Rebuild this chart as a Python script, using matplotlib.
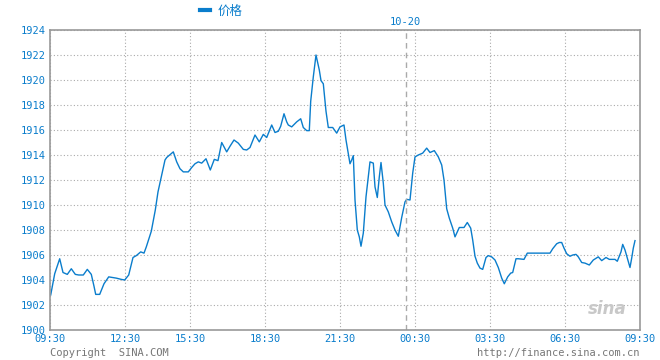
import matplotlib
matplotlib.use("Agg")
import matplotlib.pyplot as plt

# horizontal slot of each sample (0 = 09:30 open, 590 = next 09:30) and price
slot = [0.7, 4.7, 9.7, 13, 17.3, 21.3, 25.3, 28.7, 33.3, 37.3, 41.3, 44, 45.7, 49.7,
        54, 58.7, 66.3, 71.3, 74.7, 78.7, 83, 86.3, 90.7, 94, 96.3, 101.3, 105.3, 108,
        111.7, 115, 116.7, 123.3, 126.7, 130, 133.3, 138.3, 141.7, 145, 148.3, 151.7,
        156, 160.3, 164.3, 168, 171.7, 176.7, 180, 184, 188.3, 193.3, 196.7, 200,
        205, 209.3, 213.3, 216.7, 221.7, 225, 228.3, 230.7, 234, 236.7, 238.3, 241.7,
        246.7, 250.7, 253.3, 256.7, 259.3, 260.7, 263.3, 266, 269.3, 271, 273.3, 276,
        278.3, 282.7, 286.7, 290, 294, 296, 298.3, 300, 301.7, 303.3, 305, 307.3,
        309.3, 311, 313.3, 316, 318.3, 320, 323.3, 325, 327.3, 329.3, 331, 333.3, 335,
        338.3, 341.7, 345, 348.3, 351.7, 355, 356.7, 360, 362.7, 365, 368.3, 372.7,
        376.7, 380, 384.3, 388.3, 391.7, 394, 396.7, 399.3, 402.7, 405, 407.3, 409.3,
        414, 417.3, 420.7, 422.7, 425, 427.3, 430, 432.7, 436, 438.3, 441.7, 445,
        448.3, 451.7, 454.3, 457.7, 460.7, 462.7, 466, 468.3, 474, 477.3, 500, 502.7,
        506.7, 509.3, 511.7, 514, 516.7, 520, 522.7, 526, 528.3, 531.7, 535, 539.3,
        543.3, 548.3, 551.7, 556, 559.3, 565, 567.3, 571, 572.7, 575, 577.3, 580,
        581.7, 583.3, 585]
price = [1902.8, 1904.5, 1905.7, 1904.6, 1904.45, 1904.9, 1904.45, 1904.4, 1904.4,
         1904.85, 1904.45, 1903.5, 1902.85, 1902.85, 1903.7, 1904.25, 1904.15, 1904.05,
         1904.0, 1904.4, 1905.8, 1905.95, 1906.25, 1906.15, 1906.65, 1907.9, 1909.6,
         1911.05, 1912.4, 1913.6, 1913.8, 1914.25, 1913.45, 1912.9, 1912.65, 1912.65,
         1913.0, 1913.3, 1913.45, 1913.35, 1913.7, 1912.8, 1913.65, 1913.55, 1915.0,
         1914.25, 1914.7, 1915.2, 1914.95, 1914.45, 1914.4, 1914.6, 1915.6, 1915.05,
         1915.65, 1915.4, 1916.4, 1915.8, 1915.9, 1916.3, 1917.3, 1916.65, 1916.4,
         1916.25, 1916.65, 1916.9, 1916.2, 1915.95, 1915.95, 1918.3, 1920.25, 1922.0,
         1920.8, 1919.95, 1919.7, 1917.5, 1916.2, 1916.2, 1915.75, 1916.25, 1916.4,
         1915.2, 1914.1, 1913.3, 1913.6, 1913.95, 1910.4, 1908.0, 1907.45, 1906.7,
         1907.75, 1910.65, 1912.25, 1913.45, 1913.35, 1911.45, 1910.6, 1912.25, 1913.4,
         1911.75, 1910.0, 1909.45, 1908.65, 1908.0, 1907.5, 1909.0, 1910.25, 1910.45,
         1910.4, 1912.55, 1913.85, 1914.0, 1914.15, 1914.55, 1914.2, 1914.35, 1913.85,
         1913.2, 1912.0, 1909.7, 1908.95, 1908.15, 1907.45, 1907.85, 1908.2, 1908.2,
         1908.6, 1908.15, 1907.2, 1905.9, 1905.35, 1904.95, 1904.85, 1905.8, 1905.95,
         1905.85, 1905.6, 1905.0, 1904.15, 1903.7, 1904.25, 1904.55, 1904.6, 1905.7,
         1905.7, 1905.65, 1906.15, 1906.15, 1906.5, 1906.9, 1907.0, 1907.0, 1906.55,
         1906.1, 1905.9, 1906.0, 1906.05, 1905.85, 1905.4, 1905.35, 1905.2, 1905.6,
         1905.85, 1905.55, 1905.8, 1905.65, 1905.65, 1905.5, 1906.25, 1906.85, 1906.4,
         1905.75, 1905.0, 1905.75, 1906.55, 1907.15]

tick_slots = [0, 75, 140, 215, 290, 365, 440, 515, 590]
tick_labels = ["09:30", "12:30", "15:30", "18:30", "21:30", "00:30", "03:30", "06:30", "09:30"]
y_ticks = list(range(1900, 1925, 2))
day_slot = 355.5
day_label = "10-20"

blue = "#0a7dcc"
grey = "#999999"

fig = plt.figure(figsize=(6.6, 3.6), dpi=100)
ax = fig.add_axes([50 / 660, 30 / 360, 590 / 660, 300 / 360])

ax.plot(slot, price, color=blue, linewidth=1.0, label="价格")

ax.set_xlim(0, 590)
ax.set_ylim(1900, 1924)
ax.set_xticks(tick_slots)
ax.set_xticklabels(tick_labels)
ax.set_yticks(y_ticks)
ax.tick_params(length=0, colors=blue, labelsize=7.5, pad=3)
for lab in ax.get_xticklabels() + ax.get_yticklabels():
    lab.set_family("DejaVu Sans Mono")

ax.grid(True, color="#aaaaaa", linestyle=(0, (1, 2)), linewidth=0.8)
for s in ax.spines.values():
    s.set_color(grey)
    s.set_linewidth(1.2)

# date separator
ax.axvline(day_slot, color="#aaaaaa", linestyle=(0, (4, 3)), linewidth=1)
ax.text(day_slot, 1924.64, day_label, color=blue, ha="center", va="center",
        fontsize=7.5, family="DejaVu Sans Mono")

leg = ax.legend(loc="center left", bbox_to_anchor=(150 / 590, 1 + 19 / 300), frameon=False,
                handlelength=0.8, handletextpad=0.6, borderaxespad=0, borderpad=0,
                prop={"family": ["Noto Sans CJK SC", "DejaVu Sans"], "size": 9})
for t in leg.get_texts():
    t.set_color(blue)
for h in leg.get_lines():
    h.set_linewidth(3)

fig.text(50 / 660, 1 - 353 / 360, "Copyright  SINA.COM", color="#777777",
         fontsize=7.5, family="DejaVu Sans Mono", va="center", ha="left")
fig.text(640 / 660, 1 - 353 / 360, "http://finance.sina.com.cn", color="#777777",
         fontsize=7.5, family="DejaVu Sans Mono", va="center", ha="right")
ax.text(0.978, 0.04, "sina", transform=ax.transAxes, color="#c8c8c8",
        fontsize=12, fontweight="bold", style="italic", ha="right", va="bottom")

fig.savefig("out.png", dpi=100)
